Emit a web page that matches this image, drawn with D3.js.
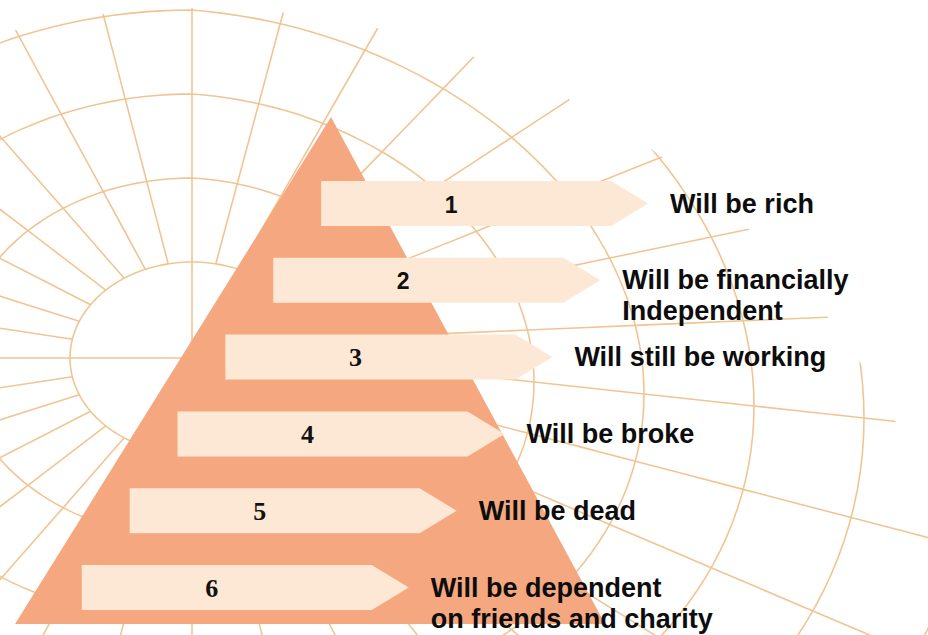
<!DOCTYPE html>
<html lang="en">
<head>
<meta charset="UTF-8">
<title>Pyramid</title>
<script src="https://d3js.org/d3.v7.min.js"></script>
<style>
  html, body { margin: 0; padding: 0; background: #fff; }
  svg { display: block; }
</style>
</head>
<body>
<div id="chart"></div>
<script>
// levels of the pyramid, top to bottom
var ranks = [1, 2, 3, 4, 5, 6];
var labels = [
  ["Will be rich"],
  ["Will be financially", "Independent"],
  ["Will still be working"],
  ["Will be broke"],
  ["Will be dead"],
  ["Will be dependent", "on friends and charity"]
];

// background web: rings and spokes
var gridRings = [0, 1, 2, 3, 4, 5, 6];
var spokeAngles = d3.range(0, 360, 11.25);

var width = 928, height = 635;

var svg = d3.select("#chart")
  .append("svg")
    .attr("width", width)
    .attr("height", height);

// ---- background grid (slightly tilted polar web) ----
var cx = 192, cy = 358;
var ringRx = d3.scaleLinear().domain([0, 5]).range([122, 672]);
var ringRy = d3.scaleLinear().domain([0, 5]).range([96, 516]);
var ringShift = d3.scaleLinear().domain([0, 5]).range([0, 60]);

function gx(r, a) { return cx + ringRx(r) * Math.cos(a); }
function gy(r, a) { return cy - ringRy(r) * Math.sin(a) + ringShift(r) * Math.max(0, Math.cos(a)); }

svg.append("clipPath")
    .attr("id", "webclip")
  .append("circle")
    .attr("cx", 200)
    .attr("cy", 800)
    .attr("r", 792);

var web = svg.append("g")
    .attr("clip-path", "url(#webclip)")
    .attr("fill", "none")
    .attr("stroke", "#f0c594")
    .attr("stroke-width", 1.6);

var line = d3.line().curve(d3.curveLinear);
var rad = Math.PI / 180;

web.selectAll(".ring")
  .data(gridRings)
  .enter()
  .append("path")
    .attr("class", "ring")
    .attr("d", function (r) {
      var pts = d3.range(0, 361, 2).map(function (deg) { return [gx(r, deg * rad), gy(r, deg * rad)]; });
      return line(pts);
    });

web.selectAll(".spoke")
  .data(spokeAngles)
  .enter()
  .append("path")
    .attr("class", "spoke")
    .attr("d", function (deg) {
      var a = deg * rad;
      var pts = d3.range(0, 8.01, 0.5).map(function (r) { return [gx(r, a), gy(r, a)]; });
      if (deg % 90 === 0) pts.unshift([cx, cy]);
      return line(pts);
    });

// ---- pyramid ----
var apexX = 331, apexY = 117, baseY = 624, baseLeft = 15, baseRight = 605;
var leftEdge = d3.scaleLinear().domain([apexY, baseY]).range([apexX, baseLeft]);

svg.append("path")
    .attr("d", line([[apexX, apexY], [baseRight, baseY], [baseLeft, baseY]]) + "Z")
    .attr("fill", "#f5a87f");

// ---- arrows ----
var y = d3.scaleLinear().domain([1, 6]).range([181, 565]);
var barH = 45, barW = 327, tipW = 37;
function barX(d) { return leftEdge(y(d)) + 30; }

var arrows = svg.append("g");

arrows.selectAll(".arrow")
  .data(ranks)
  .enter()
  .append("path")
    .attr("class", "arrow")
    .attr("fill", "#fce8d4")
    .attr("d", function (d) {
      var x0 = barX(d), y0 = y(d);
      return line([
        [x0, y0], [x0 + barW - tipW, y0], [x0 + barW, y0 + barH / 2],
        [x0 + barW - tipW, y0 + barH], [x0, y0 + barH]
      ]) + "Z";
    });

// first two numbers are sans, the rest serif, as in the original
arrows.selectAll(".num")
  .data(ranks)
  .enter()
  .append("text")
    .attr("class", "num")
    .attr("x", function (d) { return barX(d) + 130; })
    .attr("y", function (d) { return y(d) + barH / 2 + 9; })
    .attr("text-anchor", "middle")
    .style("font-family", function (d) { return d <= 2 ? "'Liberation Sans', Arial, sans-serif" : "'Liberation Serif', 'Times New Roman', serif"; })
    .style("font-weight", "bold")
    .style("font-size", function (d) { return d <= 2 ? "23px" : "26px"; })
    .style("fill", "#111")
    .text(function (d) { return d; });

// ---- labels ----
var lab = svg.append("g")
  .selectAll(".label")
  .data(ranks)
  .enter()
  .append("text")
    .attr("class", "label")
    .attr("x", function (d) { return barX(d) + barW + 22; })
    .attr("y", function (d) { return y(d) + barH / 2 + 9; })
    .style("font-family", "'Liberation Sans', Arial, sans-serif")
    .style("font-weight", "bold")
    .style("font-size", "27px")
    .style("fill", "#0d0d0d");

lab.selectAll("tspan")
  .data(function (d) { return labels[d - 1]; })
  .enter()
  .append("tspan")
    .attr("x", function () { return d3.select(this.parentNode).attr("x"); })
    .attr("dy", function (t, i) { return i === 0 ? 0 : 31; })
    .text(function (t) { return t; });
</script>
</body>
</html>
